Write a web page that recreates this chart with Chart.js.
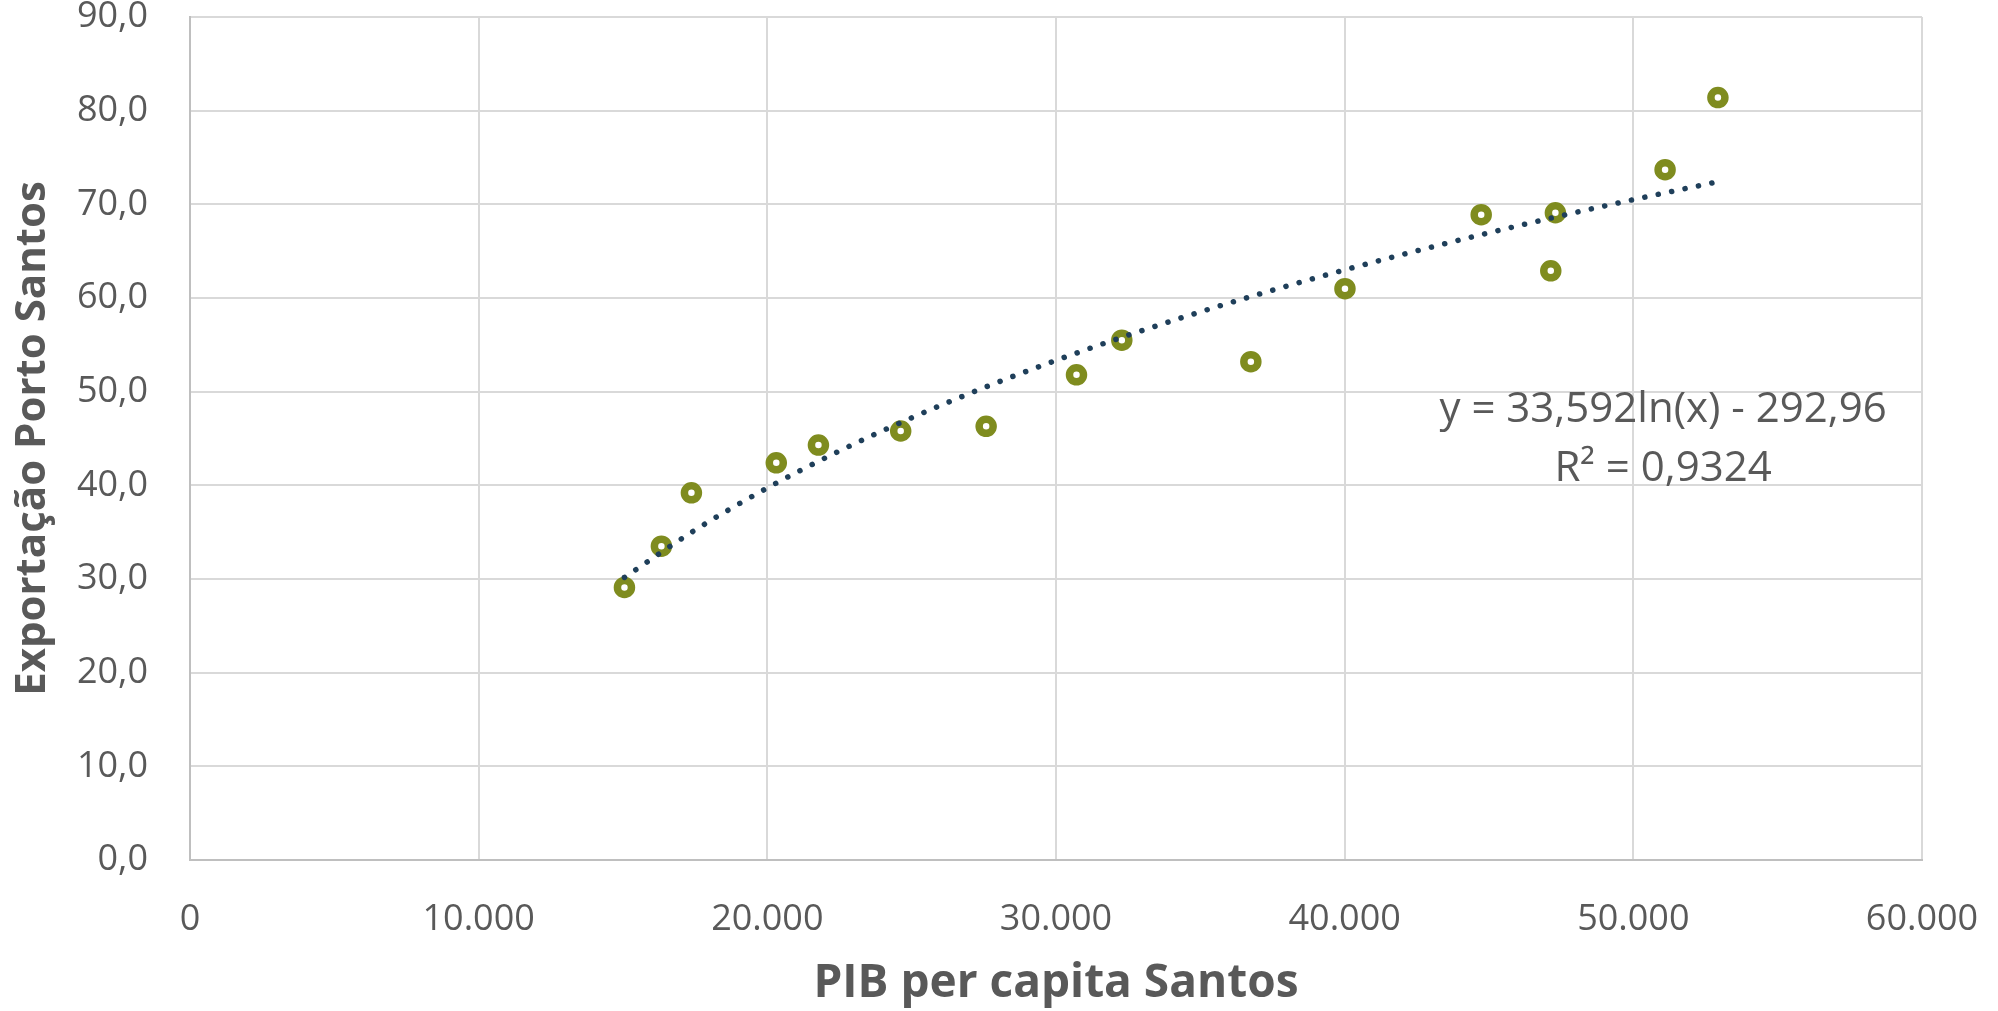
<!DOCTYPE html>
<html>
<head>
<meta charset="utf-8">
<script src="https://cdn.jsdelivr.net/npm/chart.js@4/dist/chart.umd.min.js"></script>
<style>
  html, body { margin: 0; padding: 0; background: #ffffff; }
  #wrap { width: 1998px; height: 1011px; }
</style>
</head>
<body>
<div id="wrap"><canvas id="c" width="1998" height="1011"></canvas></div>
<script>
// ---- data ----
const pibPerCapita = [15050, 16330, 17370, 20310, 21770, 24620, 27580, 30710, 32280, 36750, 40010, 44730, 47140, 47300, 51100, 52930];
const exportacao   = [29.1, 33.5, 39.2, 42.4, 44.3, 45.8, 46.3, 51.8, 55.5, 53.2, 61.0, 68.9, 62.9, 69.1, 73.7, 81.4];

// logarithmic trend line
const trendX = [15050, 17500, 20000, 22500, 25000, 27500, 30000, 32500, 35000, 37500, 40000, 42500, 45000, 47500, 50000, 52930];
const trendY = [30.17, 35.23, 39.72, 43.67, 47.21, 50.42, 53.34, 56.03, 58.52, 60.83, 63.00, 65.04, 66.96, 68.78, 70.50, 72.41];

const xTickValues = [0, 10000, 20000, 30000, 40000, 50000, 60000];
const xTickLabels = ['0', '10.000', '20.000', '30.000', '40.000', '50.000', '60.000'];
const yTickValues = [0, 10, 20, 30, 40, 50, 60, 70, 80, 90];
const yTickLabels = ['0,0', '10,0', '20,0', '30,0', '40,0', '50,0', '60,0', '70,0', '80,0', '90,0'];

const xTitle = 'PIB per capita Santos';
const yTitle = 'Exportação Porto Santos';
const equationLines = ['y = 33,592ln(x) - 292,96', 'R² = 0,9324'];

// ---- chart ----
const TEXT = '#595959';
const FONT = "'Open Sans', 'DejaVu Sans', sans-serif";

const equationPlugin = {
  id: 'equationLabel',
  afterDatasetsDraw(chart, args, opts) {
    const ctx = chart.ctx;
    const xs = chart.scales.x, ys = chart.scales.y;
    const cx = xs.getPixelForValue(opts.x);
    const by = ys.getPixelForValue(opts.y);
    ctx.save();
    ctx.font = opts.font;
    ctx.fillStyle = opts.color;
    ctx.textAlign = 'center';
    ctx.textBaseline = 'alphabetic';
    opts.lines.forEach((t, i) => ctx.fillText(t, cx, by + i * opts.lineGap));
    ctx.restore();
  }
};

new Chart(document.getElementById('c'), {
  type: 'scatter',
  data: {
    datasets: [
      {
        label: 'Linha de tendência',
        data: trendX.map((x, i) => ({ x: x, y: trendY[i] })),
        showLine: true,
        borderColor: '#1f3f5a',
        borderWidth: 5.5,
        borderDash: [0.1, 13.6],
        borderCapStyle: 'round',
        cubicInterpolationMode: 'monotone',
        pointRadius: 0,
        pointHoverRadius: 0,
        fill: false,
        order: 0
      },
      {
        label: 'Exportação',
        data: pibPerCapita.map((x, i) => ({ x: x, y: exportacao[i] })),
        pointStyle: 'circle',
        pointRadius: 7,
        pointBorderWidth: 7.5,
        pointBorderColor: '#7f8c1f',
        pointBackgroundColor: '#ffffff',
        showLine: false,
        order: 1
      }
    ]
  },
  options: {
    responsive: false,
    animation: false,
    devicePixelRatio: 1,
    layout: { padding: { left: 0, right: 76, top: 17, bottom: 0 } },
    plugins: {
      legend: { display: false },
      tooltip: { enabled: false },
      equationLabel: {
        lines: equationLines,
        x: 51030,
        y: 46.8,
        lineGap: 59,
        font: "42px " + FONT,
        color: TEXT
      }
    },
    scales: {
      x: {
        type: 'linear',
        min: 0, max: 60000,
        afterBuildTicks(scale) { scale.ticks = xTickValues.map(v => ({ value: v })); },
        afterFit(scale) { scale.height = 151; scale.paddingLeft = 0; scale.paddingRight = 0; },
        ticks: {
          callback: (v, i) => xTickLabels[xTickValues.indexOf(v)],
          color: TEXT,
          font: { family: FONT, size: 36 },
          padding: 38,
          maxRotation: 0,
          autoSkip: false
        },
        grid: { color: '#d9d9d9', lineWidth: 2, drawTicks: false },
        border: { color: '#bfbfbf', width: 2 },
        title: {
          display: true,
          text: xTitle,
          color: TEXT,
          font: { family: FONT, size: 46, weight: 'bold' },
          padding: { top: 0, bottom: 0 }
        }
      },
      y: {
        type: 'linear',
        min: 0, max: 90,
        afterBuildTicks(scale) { scale.ticks = yTickValues.map(v => ({ value: v })); },
        afterFit(scale) { scale.width = 190; scale.paddingTop = 0; scale.paddingBottom = 0; },
        ticks: {
          callback: (v, i) => yTickLabels[yTickValues.indexOf(v)],
          color: TEXT,
          font: { family: FONT, size: 36 },
          padding: 42,
          autoSkip: false
        },
        grid: { color: '#d9d9d9', lineWidth: 2, drawTicks: false },
        border: { color: '#bfbfbf', width: 2 },
        title: {
          display: true,
          text: yTitle,
          color: TEXT,
          font: { family: FONT, size: 42, weight: 'bold' },
          padding: { top: 8, bottom: 0 }
        }
      }
    }
  },
  plugins: [equationPlugin]
});
</script>
</body>
</html>
